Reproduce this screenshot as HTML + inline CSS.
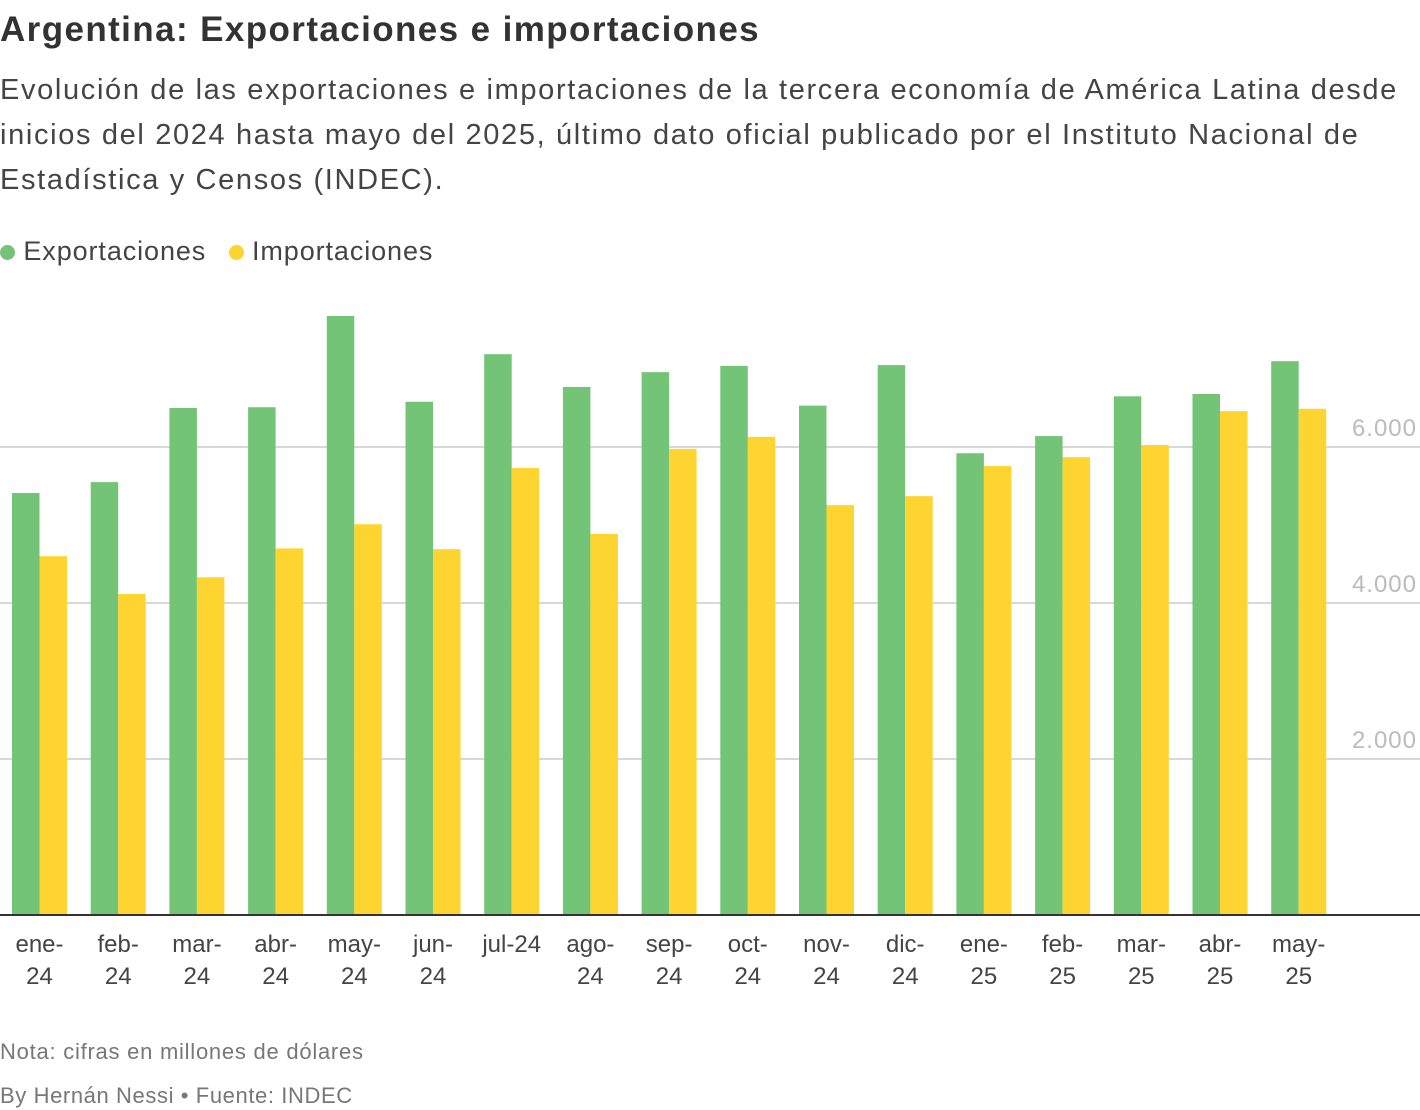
<!DOCTYPE html>
<html><head><meta charset="utf-8"><style>
body{margin:0;width:1420px;height:1110px;background:#fff;font-family:"Liberation Sans",sans-serif;overflow:hidden;position:relative}
.t{position:absolute;left:0;white-space:nowrap}
</style></head><body>
<div class="t" style="top:10px;font-size:35px;font-weight:bold;color:#333;letter-spacing:1.4px">Argentina: Exportaciones e importaciones</div>
<div class="t" style="top:68px;font-size:29px;color:#444;line-height:45px;letter-spacing:1.65px">Evolución de las exportaciones e importaciones de la tercera economía de América Latina desde<br>inicios del 2024 hasta mayo del 2025, último dato oficial publicado por el Instituto Nacional de<br>Estadística y Censos (INDEC).</div>
<div class="t" style="top:236px;font-size:27px;color:#444;letter-spacing:0.9px">
<span><span style="display:inline-block;width:15px;height:15px;border-radius:50%;background:#73c476"></span> Exportaciones</span>
<span style="margin-left:14px"><span style="display:inline-block;width:15px;height:15px;border-radius:50%;background:#fed530"></span> Importaciones</span></div>
<svg id="chart" width="1420" height="1110" style="position:absolute;left:0;top:0"></svg>
<div class="t" style="top:1039px;font-size:22px;color:#777;letter-spacing:0.75px">Nota: cifras en millones de dólares</div>
<div class="t" style="top:1083px;font-size:22px;color:#777;letter-spacing:0.6px">By Hernán Nessi • Fuente: INDEC</div>
<script>
const cats1=["ene-","feb-","mar-","abr-","may-","jun-","jul-24","ago-","sep-","oct-","nov-","dic-","ene-","feb-","mar-","abr-","may-"];
const cats2=["24","24","24","24","24","24","","24","24","24","24","24","25","25","25","25","25"];
const exportaciones=[5410,5550,6500,6510,7680,6580,7190,6770,6960,7040,6530,7050,5920,6140,6650,6680,7100];
const importaciones=[4600,4115,4330,4700,5010,4690,5730,4885,5975,6130,5255,5370,5755,5870,6025,6460,6490];
const ticks=[2000,4000,6000];
const tickLabels=["2.000","4.000","6.000"];
const svg=document.getElementById('chart');const NS="http://www.w3.org/2000/svg";
const y=v=>915-v*0.078;const x=i=>12+i*78.7;const bw=27.5;
function mk(t,a){const e=document.createElementNS(NS,t);for(const k in a)e.setAttribute(k,a[k]);svg.appendChild(e);return e;}
ticks.forEach((t,i)=>{const l=mk('line',{x1:0,x2:1420,y1:y(t),y2:y(t),stroke:'#ccc','stroke-width':1.5});


const tx=mk('text',{x:1417,y:y(t)-11,'text-anchor':'end','font-size':24,fill:'#bbb','font-family':'Liberation Sans, sans-serif','letter-spacing':1});tx.textContent=tickLabels[i];

});
exportaciones.forEach((v,i)=>{const r=mk('rect',{x:x(i),y:y(v),width:bw,height:915-y(v),fill:'#73c476'});

});
importaciones.forEach((v,i)=>{const r=mk('rect',{x:x(i)+bw,y:y(v),width:bw,height:915-y(v),fill:'#fed530'});

});
cats1.forEach((c,i)=>{const cx=x(i)+bw;
const a=mk('text',{x:cx,y:952,'text-anchor':'middle','font-size':24,fill:'#444','font-family':'Liberation Sans, sans-serif'});a.textContent=c;


if(cats2[i]){const b=mk('text',{x:cx,y:984,'text-anchor':'middle','font-size':24,fill:'#444','font-family':'Liberation Sans, sans-serif'});b.textContent=cats2[i];

}});
const ax=mk('line',{x1:0,x2:1420,y1:915,y2:915,stroke:'#333','stroke-width':2});


</script>
</body></html>
